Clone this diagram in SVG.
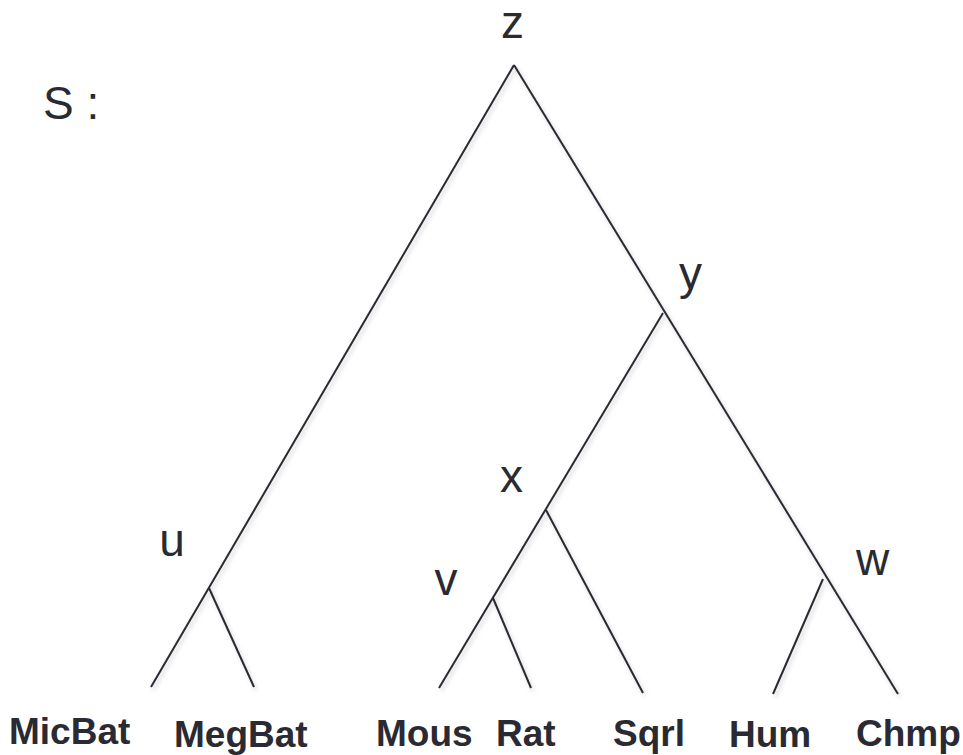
<svg xmlns="http://www.w3.org/2000/svg" width="963" height="755" viewBox="0 0 963 755">
<defs>
<filter id="sh" x="-10%" y="-10%" width="130%" height="130%">
<feDropShadow dx="2" dy="3" stdDeviation="2" flood-color="#000" flood-opacity="0.18"/>
</filter>
<style>
.e{stroke:#2a2a33;stroke-width:2;fill:none;stroke-linecap:butt}
.n{font-family:"Liberation Sans",Arial,sans-serif;font-size:46px;fill:#2a2a33;text-anchor:middle}
.l{font-family:"Liberation Sans",Arial,sans-serif;font-size:37px;font-weight:bold;fill:#2a2a33}
</style>
</defs>
<rect width="963" height="755" fill="#fff"/>
<text class="n" x="43" y="119" style="text-anchor:start">S :</text>
<g id="connectors" filter="url(#sh)">
<line class="e" x1="514" y1="65" x2="151" y2="687"/>
<line class="e" x1="514" y1="65" x2="898" y2="694"/>
<line class="e" x1="209" y1="588" x2="254" y2="687"/>
<line class="e" x1="663" y1="313" x2="439" y2="688"/>
<line class="e" x1="546" y1="510" x2="643" y2="693"/>
<line class="e" x1="493" y1="598" x2="531" y2="688"/>
<line class="e" x1="823" y1="579" x2="773" y2="694"/>
</g>
<g id="node-z"><text class="n" x="512.5" y="38">z</text></g>
<g id="node-y"><text class="n" x="690.5" y="289">y</text></g>
<g id="node-x"><text class="n" x="511.5" y="492">x</text></g>
<g id="node-u"><text class="n" x="172" y="556">u</text></g>
<g id="node-v"><text class="n" x="446" y="595">v</text></g>
<g id="node-w"><text class="n" x="872.5" y="575">w</text></g>
<g id="leaf-MicBat"><text class="l" x="9" y="744">MicBat</text></g>
<g id="leaf-MegBat"><text class="l" x="174" y="747">MegBat</text></g>
<g id="leaf-Mous"><text class="l" x="376" y="746">Mous</text></g>
<g id="leaf-Rat"><text class="l" x="496" y="746">Rat</text></g>
<g id="leaf-Sqrl"><text class="l" x="613" y="746">Sqrl</text></g>
<g id="leaf-Hum"><text class="l" x="729" y="747">Hum</text></g>
<g id="leaf-Chmp"><text class="l" x="856" y="746">Chmp</text></g>
</svg>
